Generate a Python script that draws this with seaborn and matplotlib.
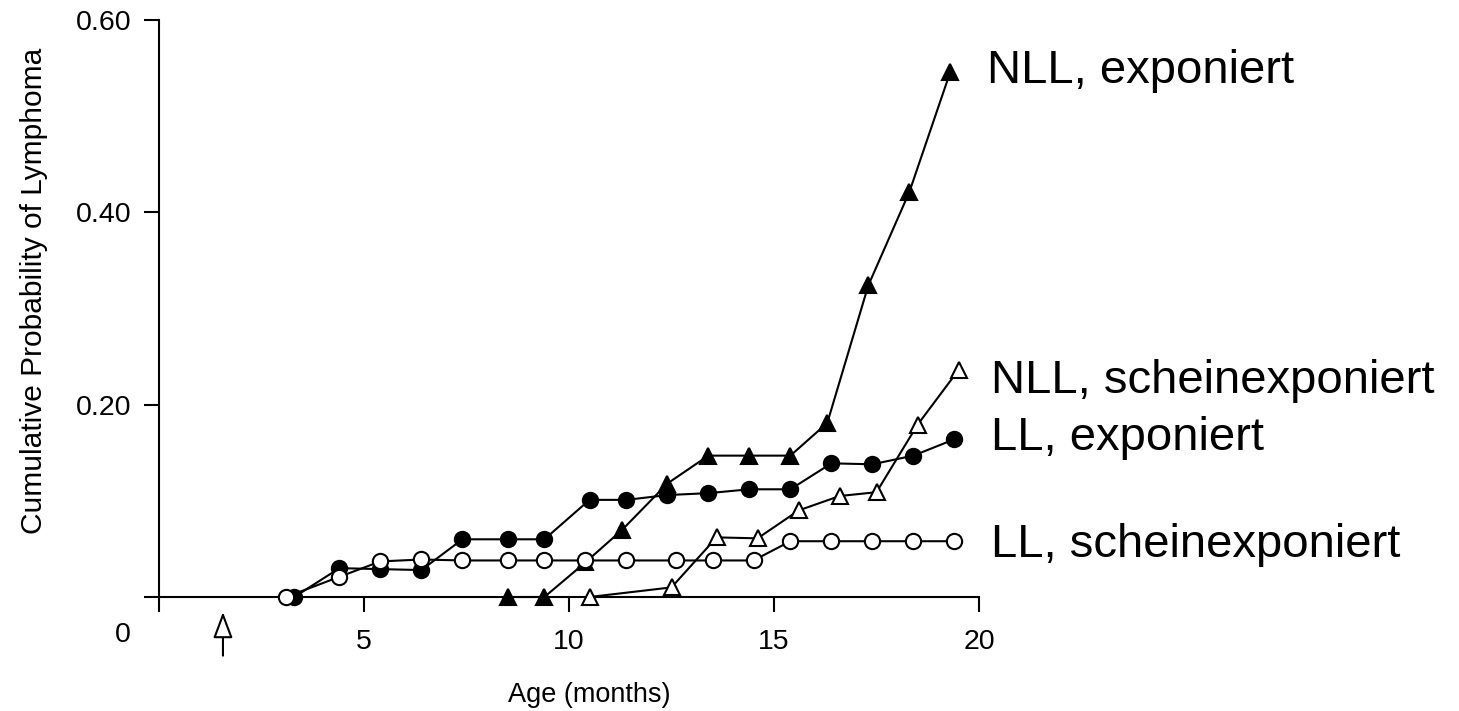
import matplotlib
matplotlib.use("Agg")
import matplotlib.pyplot as plt
import seaborn as sns
import pandas as pd
from matplotlib.transforms import ScaledTranslation

# ---- data ----
nll_exp_x = [8.5, 9.4, 10.4, 11.3, 12.4, 13.4, 14.4, 15.4, 16.3, 17.3, 18.3, 19.3]
nll_exp_y = [0.0, 0.0, 0.036, 0.070, 0.118, 0.147, 0.147, 0.147, 0.181, 0.324, 0.421, 0.546]

nll_sham_x = [10.5, 12.5, 13.6, 14.6, 15.6, 16.6, 17.5, 18.5, 19.5]
nll_sham_y = [0.0, 0.010, 0.062, 0.061, 0.090, 0.105, 0.109, 0.179, 0.236]

ll_exp_x = [3.3, 4.4, 5.4, 6.4, 7.4, 8.5, 9.4, 10.5, 11.4, 12.4, 13.4, 14.4, 15.4, 16.4, 17.4, 18.4, 19.4]
ll_exp_y = [0.0, 0.030, 0.029, 0.028, 0.060, 0.060, 0.060, 0.101, 0.101, 0.106, 0.108, 0.112, 0.112, 0.139, 0.138, 0.147, 0.164]

ll_sham_x = [3.1, 4.4, 5.4, 6.4, 7.4, 8.5, 9.4, 10.4, 11.4, 12.6, 13.5, 14.5, 15.4, 16.4, 17.4, 18.4, 19.4]
ll_sham_y = [0.0, 0.021, 0.037, 0.039, 0.038, 0.038, 0.038, 0.038, 0.038, 0.038, 0.038, 0.038, 0.058, 0.058, 0.058, 0.058, 0.058]

series_names = ["NLL, exponiert", "NLL, scheinexponiert", "LL, exponiert", "LL, scheinexponiert"]
x_ticks = [0, 5, 10, 15, 20]
x_tick_labels = ["", "5", "10", "15", "20"]
y_ticks = [0, 0.2, 0.4, 0.6]
y_tick_labels = ["0", "0.20", "0.40", "0.60"]
x_label = "Age (months)"
y_label = "Cumulative Probability of Lymphoma"
arrow_x = 1.56

# ---- style ----
sns.set_theme(style="ticks")
plt.rcParams["font.family"] = ["Liberation Sans", "DejaVu Sans"]

fig = plt.figure(figsize=(14.59, 7.11), dpi=100)
ax = fig.add_axes([159 / 1459, 1 - 597 / 711, 820 / 1459, 577 / 711])

specs = [
    (nll_exp_x, nll_exp_y, "^", "black"),
    (nll_sham_x, nll_sham_y, "^", "white"),
    (ll_exp_x, ll_exp_y, "o", "black"),
    (ll_sham_x, ll_sham_y, "o", "white"),
]
for name, (xs, ys, mk, fc) in zip(series_names, specs):
    df = pd.DataFrame({"age": xs, "prob": ys})
    sns.lineplot(data=df, x="age", y="prob", ax=ax, color="black", lw=1.5,
                 marker=mk, markersize=11 if mk == "o" else 12,
                 markerfacecolor=fc, markeredgecolor="black",
                 markeredgewidth=1.5, sort=False, clip_on=False, zorder=4)

# series labels at right
label_pos = [(20.2, 0.534), (20.3, 0.212), (20.3, 0.153), (20.3, 0.0416)]
for name, (lx, ly) in zip(series_names, label_pos):
    ax.text(lx, ly, name, fontsize=34, ha="left", va="baseline",
            color="black", clip_on=False)

ax.set_xlim(0, 20)
ax.set_ylim(0, 0.6)
ax.set_xticks(x_ticks)
ax.set_xticklabels(x_tick_labels)
ax.set_yticks(y_ticks)
ax.set_yticklabels(y_tick_labels)

for side in ["top", "right"]:
    ax.spines[side].set_visible(False)
for side in ["left", "bottom"]:
    ax.spines[side].set_linewidth(1.5)
    ax.spines[side].set_color("black")

ax.tick_params(axis="both", direction="out", length=11, width=1.5,
               colors="black", labelsize=20.5)
ax.tick_params(axis="x", pad=12)
ax.tick_params(axis="y", pad=9)

# shift the origin "0" label down
lbl0 = ax.get_yticklabels()[0]
lbl0.set_transform(lbl0.get_transform() + ScaledTranslation(0, -0.35, fig.dpi_scale_trans))

ax.set_xlabel(x_label, fontsize=19.5, color="black")
ax.set_ylabel(y_label, fontsize=21.5, color="black")
ax.xaxis.set_label_coords(0.525, -0.147)
ax.yaxis.set_label_coords(-0.135, 0.53)

# open arrow below the x axis
ax.annotate("", xy=(arrow_x, -0.0156), xytext=(arrow_x, -0.061),
            xycoords="data", textcoords="data", annotation_clip=False,
            arrowprops=dict(arrowstyle="-|>,head_length=0.8,head_width=0.3",
                            fc="white", ec="black", lw=1.5, mutation_scale=20,
                            shrinkA=0, shrinkB=0))

fig.savefig("out.png", dpi=100, facecolor="white")
